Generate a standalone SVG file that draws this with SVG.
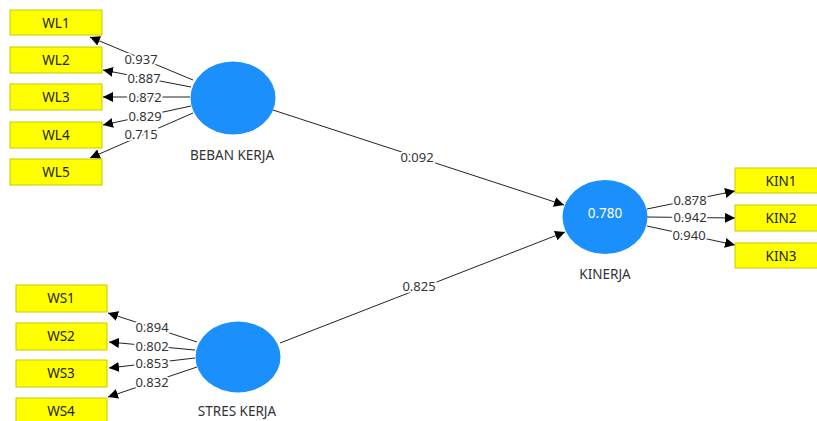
<svg xmlns="http://www.w3.org/2000/svg" width="817" height="421" viewBox="0 0 817 421">
<defs>
<marker id="ah" viewBox="0 0 10 10" refX="10" refY="5" markerWidth="10" markerHeight="10" markerUnits="userSpaceOnUse" orient="auto">
<path d="M0,0 L10,5 L0,10 Z" fill="#000"/>
</marker>
</defs>
<style>
.box{fill:#FFFF00;stroke:#C9C900;stroke-width:1}
.lv{fill:#1B8FFB}
.bt{font-family:"Noto Sans","Open Sans",sans-serif;font-size:13.5px;fill:#222;text-anchor:middle;dominant-baseline:central}
.lt{font-family:"Noto Sans","Open Sans",sans-serif;font-size:13.5px;fill:#333;text-anchor:middle;dominant-baseline:central}
.el{font-family:"Noto Sans","Open Sans",sans-serif;font-size:13px;fill:#333;text-anchor:middle;dominant-baseline:central;stroke:#fff;stroke-width:4;paint-order:stroke}
.c{stroke:#222;stroke-width:1;fill:none;marker-end:url(#ah)}
</style>
<rect width="817" height="421" fill="#fff"/>
<g id="connectors">
<line class="c" x1="193" y1="80" x2="90" y2="37"/>
<line class="c" x1="191" y1="87" x2="103" y2="70"/>
<line class="c" x1="190" y1="97" x2="103" y2="97"/>
<line class="c" x1="191" y1="106" x2="103" y2="125"/>
<line class="c" x1="193" y1="113" x2="90" y2="158"/>
<line class="c" x1="197" y1="342" x2="108" y2="313"/>
<line class="c" x1="195" y1="350" x2="109" y2="342"/>
<line class="c" x1="195" y1="358" x2="109" y2="368"/>
<line class="c" x1="197" y1="367" x2="108" y2="397"/>
<line class="c" x1="647" y1="209" x2="735" y2="191"/>
<line class="c" x1="647" y1="217" x2="735" y2="218"/>
<line class="c" x1="647" y1="226" x2="735" y2="245"/>
<line class="c" x1="273" y1="110" x2="564" y2="205"/>
<line class="c" x1="280" y1="343" x2="565" y2="232"/>
<text class="el" x="141" y="59">0.937</text>
<text class="el" x="144" y="78">0.887</text>
<text class="el" x="145" y="97">0.872</text>
<text class="el" x="145" y="116">0.829</text>
<text class="el" x="141" y="134">0.715</text>
<text class="el" x="152" y="327">0.894</text>
<text class="el" x="152" y="346">0.802</text>
<text class="el" x="152" y="363">0.853</text>
<text class="el" x="152" y="382">0.832</text>
<text class="el" x="690" y="200">0.878</text>
<text class="el" x="690" y="217">0.942</text>
<text class="el" x="689" y="235">0.940</text>
<text class="el" x="417" y="157">0.092</text>
<text class="el" x="419" y="286">0.825</text>
</g>
<g id="WL1"><rect class="box" x="10" y="10" width="92" height="25"/><text class="bt" x="56" y="23">WL1</text></g>
<g id="WL2"><rect class="box" x="10" y="47" width="92" height="26"/><text class="bt" x="56" y="60">WL2</text></g>
<g id="WL3"><rect class="box" x="10" y="84" width="92" height="26"/><text class="bt" x="56" y="97">WL3</text></g>
<g id="WL4"><rect class="box" x="10" y="122" width="92" height="26"/><text class="bt" x="56" y="135">WL4</text></g>
<g id="WL5"><rect class="box" x="10" y="159" width="92" height="26"/><text class="bt" x="56" y="172">WL5</text></g>
<g id="WS1"><rect class="box" x="16" y="285" width="91" height="27"/><text class="bt" x="61" y="298">WS1</text></g>
<g id="WS2"><rect class="box" x="16" y="323" width="91" height="27"/><text class="bt" x="61" y="336">WS2</text></g>
<g id="WS3"><rect class="box" x="16" y="360" width="91" height="27"/><text class="bt" x="61" y="373">WS3</text></g>
<g id="WS4"><rect class="box" x="16" y="398" width="91" height="27"/><text class="bt" x="61" y="411">WS4</text></g>
<g id="KIN1"><rect class="box" x="735" y="168" width="92" height="25"/><text class="bt" x="781" y="181">KIN1</text></g>
<g id="KIN2"><rect class="box" x="735" y="205" width="92" height="26"/><text class="bt" x="781" y="218">KIN2</text></g>
<g id="KIN3"><rect class="box" x="735" y="243" width="92" height="25"/><text class="bt" x="781" y="256">KIN3</text></g>
<g id="BEBAN_KERJA"><ellipse class="lv" cx="233" cy="98" rx="42.5" ry="36.5"/><text class="lt" x="232" y="155">BEBAN KERJA</text></g>
<g id="STRES_KERJA"><ellipse class="lv" cx="238" cy="357" rx="42.5" ry="35.5"/><text class="lt" x="237" y="411">STRES KERJA</text></g>
<g id="KINERJA"><ellipse class="lv" cx="605" cy="217" rx="42.5" ry="37"/><text class="lt" x="605" y="213" style="fill:#fff">0.780</text><text class="lt" x="605" y="274">KINERJA</text></g>
</svg>
